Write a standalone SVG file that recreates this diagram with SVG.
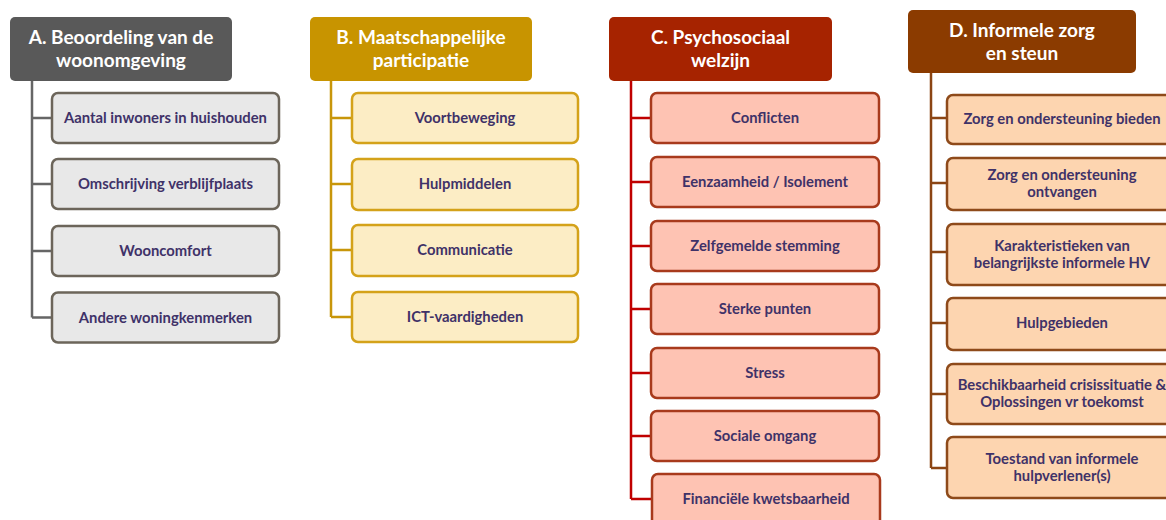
<svg xmlns="http://www.w3.org/2000/svg" width="1166" height="520" viewBox="0 0 1166 520">
<style>
.hd{font-family:Lato,"Open Sans",sans-serif;font-weight:bold;font-size:19px;fill:#ffffff;text-anchor:middle}
.lb{font-family:Lato,"Open Sans",sans-serif;font-weight:bold;font-size:14.8px;fill:#3F3268;text-anchor:middle}
.ca{fill:#E8E8E8;stroke:#6C655A;stroke-width:2.5}
.cb{fill:#FCEDC5;stroke:#D4A21A;stroke-width:2.5}
.cc{fill:#FEC3B3;stroke:#A83A1C;stroke-width:2.5}
.cd{fill:#FDD5B0;stroke:#8E4A1A;stroke-width:2.5}
.conn path{fill:none;stroke-width:2.5}
</style>
<rect width="1166" height="520" fill="#ffffff"/>
<g id="connectors" class="conn">
<path stroke="#666666" d="M32 81V317.5M32 118H52M32 184H52M32 251H52M32 317.5H52"/>
<path stroke="#C8960A" d="M331 81V317M331 118H352M331 184H352M331 250H352M331 317H352"/>
<path stroke="#C00000" d="M631 81V499M631 118H651M631 182H651M631 246H651M631 309H651M631 373H651M631 436H651M631 499H652"/>
<path stroke="#8B4513" d="M931 73V468M931 118H947M931 183H947M931 252H947M931 323H947M931 394H947M931 468H947"/>
</g>
<g id="A">
<rect x="10" y="17" width="222" height="64" rx="5" fill="#595959"/>
<text class="hd" x="121" y="44">A. Beoordeling van de</text>
<text class="hd" x="121" y="67">woonomgeving</text>
</g>
<g id="A1"><rect class="ca" x="52" y="93" width="227" height="50" rx="6"/><text class="lb" x="165.5" y="123">Aantal inwoners in huishouden</text></g>
<g id="A2"><rect class="ca" x="52" y="159" width="227" height="50" rx="6"/><text class="lb" x="165.5" y="189">Omschrijving verblijfplaats</text></g>
<g id="A3"><rect class="ca" x="52" y="226" width="227" height="50" rx="6"/><text class="lb" x="165.5" y="256">Wooncomfort</text></g>
<g id="A4"><rect class="ca" x="52" y="292.5" width="227" height="50" rx="6"/><text class="lb" x="165.5" y="322.5">Andere woningkenmerken</text></g>
<g id="B">
<rect x="310" y="17" width="222" height="64" rx="5" fill="#C89400"/>
<text class="hd" x="421" y="44">B. Maatschappelijke</text>
<text class="hd" x="421" y="67">participatie</text>
</g>
<g id="B1"><rect class="cb" x="352" y="93" width="226" height="50" rx="6"/><text class="lb" x="465" y="123">Voortbeweging</text></g>
<g id="B2"><rect class="cb" x="352" y="159" width="226" height="51" rx="6"/><text class="lb" x="465" y="189">Hulpmiddelen</text></g>
<g id="B3"><rect class="cb" x="352" y="225" width="226" height="51" rx="6"/><text class="lb" x="465" y="255">Communicatie</text></g>
<g id="B4"><rect class="cb" x="352" y="292" width="226" height="50" rx="6"/><text class="lb" x="465" y="322">ICT-vaardigheden</text></g>
<g id="C">
<rect x="609" y="17" width="223" height="64" rx="5" fill="#A62300"/>
<text class="hd" x="720.5" y="44">C. Psychosociaal</text>
<text class="hd" x="720.5" y="67">welzijn</text>
</g>
<g id="C1"><rect class="cc" x="651" y="93" width="228" height="50" rx="6"/><text class="lb" x="765" y="123">Conflicten</text></g>
<g id="C2"><rect class="cc" x="651" y="157" width="228" height="50" rx="6"/><text class="lb" x="765" y="187">Eenzaamheid / Isolement</text></g>
<g id="C3"><rect class="cc" x="651" y="221" width="228" height="50" rx="6"/><text class="lb" x="765" y="251">Zelfgemelde stemming</text></g>
<g id="C4"><rect class="cc" x="651" y="284" width="228" height="50" rx="6"/><text class="lb" x="765" y="314">Sterke punten</text></g>
<g id="C5"><rect class="cc" x="651" y="348" width="228" height="50" rx="6"/><text class="lb" x="765" y="378">Stress</text></g>
<g id="C6"><rect class="cc" x="651" y="411" width="228" height="50" rx="6"/><text class="lb" x="765" y="441">Sociale omgang</text></g>
<g id="C7"><rect class="cc" x="652" y="474" width="228" height="52" rx="6"/><text class="lb" x="766" y="504">Financiële kwetsbaarheid</text></g>
<g id="D">
<rect x="908" y="10" width="228" height="63" rx="5" fill="#8B3B00"/>
<text class="hd" x="1022" y="37">D. Informele zorg</text>
<text class="hd" x="1022" y="60">en steun</text>
</g>
<g id="D1"><rect class="cd" x="947" y="95" width="240" height="49" rx="6"/><text class="lb" x="1062" y="123.5">Zorg en ondersteuning bieden</text></g>
<g id="D2"><rect class="cd" x="947" y="158" width="240" height="52" rx="6"/><text class="lb" x="1062" y="180">Zorg en ondersteuning</text><text class="lb" x="1062" y="197">ontvangen</text></g>
<g id="D3"><rect class="cd" x="947" y="224" width="240" height="61" rx="6"/><text class="lb" x="1062" y="250.5">Karakteristieken van</text><text class="lb" x="1062" y="267.5">belangrijkste informele HV</text></g>
<g id="D4"><rect class="cd" x="947" y="298" width="240" height="52" rx="6"/><text class="lb" x="1062" y="328">Hulpgebieden</text></g>
<g id="D5"><rect class="cd" x="947" y="364" width="240" height="60" rx="6"/><text class="lb" x="1062" y="390">Beschikbaarheid crisissituatie &amp;</text><text class="lb" x="1062" y="407">Oplossingen vr toekomst</text></g>
<g id="D6"><rect class="cd" x="947" y="437" width="240" height="61" rx="6"/><text class="lb" x="1062" y="463.5">Toestand van informele</text><text class="lb" x="1062" y="480.5">hulpverlener(s)</text></g>
</svg>
